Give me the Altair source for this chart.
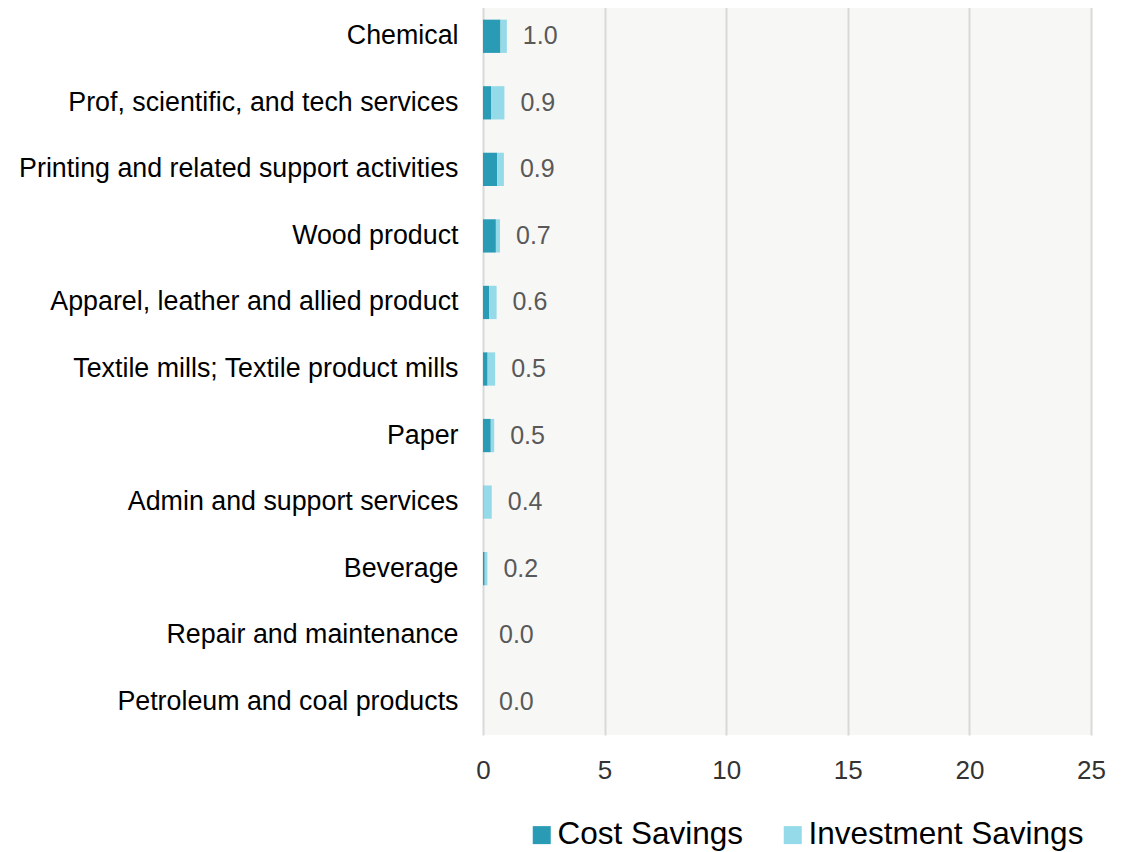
import altair as alt
import pandas as pd

categories = [
    "Chemical",
    "Prof, scientific, and tech services",
    "Printing and related support activities",
    "Wood product",
    "Apparel, leather and allied product",
    "Textile mills; Textile product mills",
    "Paper",
    "Admin and support services",
    "Beverage",
    "Repair and maintenance",
    "Petroleum and coal products",
]
cost_savings = [0.72, 0.33, 0.58, 0.53, 0.25, 0.19, 0.32, 0.02, 0.07, 0.0, 0.0]
investment_savings = [0.26, 0.55, 0.28, 0.17, 0.31, 0.31, 0.14, 0.34, 0.11, 0.0, 0.0]
series = ["Cost Savings", "Investment Savings"]
colors = ["#2a9bb5", "#95dae8"]

rows = []
for c, a, b in zip(categories, cost_savings, investment_savings):
    rows.append({"Category": c, "Series": series[0], "Value": a, "Order": 0})
    rows.append({"Category": c, "Series": series[1], "Value": b, "Order": 1})
df = pd.DataFrame(rows)
totals = pd.DataFrame({
    "Category": categories,
    "Total": [round(a + b, 2) for a, b in zip(cost_savings, investment_savings)],
})

FONT = "Liberation Sans"

y_enc = alt.Y(
    "Category:N",
    sort=categories,
    title=None,
    scale=alt.Scale(paddingInner=0.5, paddingOuter=0.25),
    axis=alt.Axis(
        labelFont=FONT, labelFontSize=26.8, labelColor="#000000",
        labelPadding=25, ticks=False, domain=False, grid=False,
        labelLimit=600,
    ),
)

bars = alt.Chart(df).mark_bar().encode(
    x=alt.X(
        "Value:Q",
        stack="zero",
        title=None,
        scale=alt.Scale(domain=[0, 25], nice=False),
        axis=alt.Axis(
            values=[0, 5, 10, 15, 20, 25], labelFont=FONT, labelFontSize=26,
            labelColor="#333333", labelPadding=22, ticks=False, domain=False,
            labelFlush=False,
            grid=True, gridColor="#d9d9d9", gridWidth=2,
        ),
    ),
    y=y_enc,
    color=alt.Color(
        "Series:N",
        scale=alt.Scale(domain=series, range=colors),
        legend=alt.Legend(
            title=None, orient="none", direction="horizontal",
            legendX=43, legendY=816,
            labelFont=FONT, labelFontSize=31.5, labelColor="#000000",
            labelLimit=500,
            symbolType="square", symbolSize=324, symbolStrokeWidth=0,
            labelOffset=0, columnPadding=33,
        ),
    ),
    order=alt.Order("Order:Q"),
)

labels = alt.Chart(totals).mark_text(
    align="left", baseline="middle", dx=16, font=FONT, fontSize=25, color="#595959"
).encode(
    x=alt.X("Total:Q"),
    y=alt.Y("Category:N", sort=categories),
    text=alt.Text("Total:Q", format=".1f"),
)

chart = (bars + labels).properties(
    width=608, height=732,
    autosize=alt.AutoSizeParams(type="none"),
    padding={"left": 475, "top": -5, "right": 32, "bottom": 118},
).configure_view(fill="#f7f7f5", stroke=None)

chart.save("out.html", embed_options={"renderer": "svg", "actions": False})
